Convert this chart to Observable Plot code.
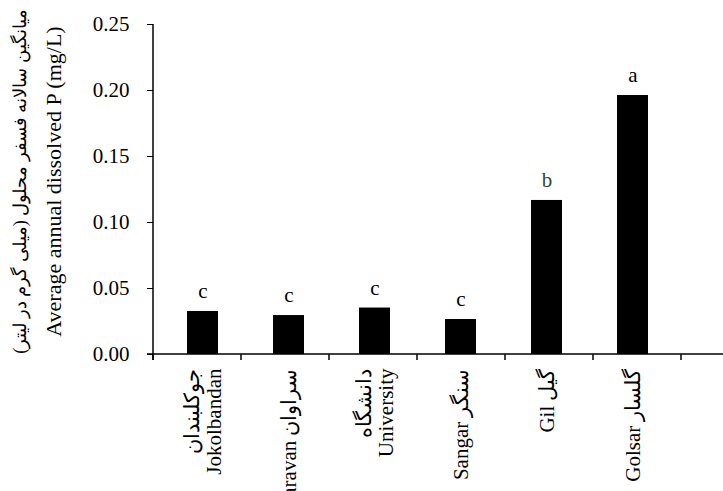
<!DOCTYPE html>
<html><head><meta charset="utf-8">
<script src="https://cdn.jsdelivr.net/npm/d3@7"></script>
<script src="https://cdn.jsdelivr.net/npm/@observablehq/plot@0.6"></script>
<style>body{margin:0;background:#fff}</style>
</head><body><div id="chart"></div>
<script>
const sites = ["Jokolbandan", "Saravan", "University", "Sangar", "Gil", "Golsar"]
const labels = ["جوکلبندان\nJokolbandan", "Saravan سراوان", "دانشگاه\nUniversity", "Sangar سنگر", "Gil گیل", "Golsar گلسار"]
const values = [0.0326, 0.0295, 0.0352, 0.0265, 0.1167, 0.1962]
const letters = ["c", "c", "c", "c", "b", "a"]
const letterColors = ["#000", "#000", "#000", "#000", "#2e4a2e", "#000"]
const yTicks = [0, 0.05, 0.10, 0.15, 0.20, 0.25]

const data = sites.map((s, i) => ({site: s, value: values[i], letter: letters[i], color: letterColors[i]}))
const labelOf = new Map(sites.map((s, i) => [s, labels[i]]))

const chart = Plot.plot({
  width: 723,
  height: 491,
  marginLeft: 153,
  marginTop: 24,
  marginBottom: 137,
  marginRight: 42,
  style: {fontFamily: "Liberation Serif", color: "#000"},
  x: {domain: sites, paddingInner: 0.64, paddingOuter: 0.36, label: null},
  y: {domain: [0, 0.25], label: null},
  marks: [
    Plot.barY(data, {x: "site", y: "value", fill: "#000"}),
    Plot.text(data, {x: "site", y: "value", text: "letter", fill: "color", dy: -20, fontSize: 21}),
    Plot.axisY({ticks: yTicks, tickFormat: d3.format(".2f"), tickSize: 6, tickPadding: 18, fontSize: 21}),
    Plot.axisX({tickFormat: d => labelOf.get(d), tickRotate: -90, tickSize: 0, tickPadding: 14, fontSize: 21, lineHeight: 1.05}),
    Plot.text(["میانگین سالانه فسفر محلول (میلی گرم در لیتر)"], {frameAnchor: "left", textAnchor: "middle", dx: -133, dy: -8, rotate: -90, fontSize: 18}),
    Plot.text(["Average annual dissolved P (mg/L)"], {frameAnchor: "left", textAnchor: "middle", dx: -100, dy: -8, rotate: -90, fontSize: 22})
  ]
})
document.getElementById("chart").append(chart)

// axis lines and band separator ticks
const svg = d3.select(chart)
const y0 = chart.scale("y").apply(0)
const yTop = chart.scale("y").apply(0.25)
const step = 528 / 6
const start = 153
svg.append("g").selectAll("line").data(d3.range(7)).join("line")
  .attr("x1", i => start + i * step).attr("x2", i => start + i * step)
  .attr("y1", y0).attr("y2", y0 + 6).attr("stroke", "#000").attr("stroke-width", 1.5)
svg.append("line").attr("x1", start - 6).attr("x2", 723).attr("y1", y0).attr("y2", y0)
  .attr("stroke", "#000").attr("stroke-width", 1.5)
svg.append("line").attr("x1", start).attr("x2", start).attr("y1", yTop).attr("y2", y0 + 6)
  .attr("stroke", "#000").attr("stroke-width", 1.5)
</script></body></html>
